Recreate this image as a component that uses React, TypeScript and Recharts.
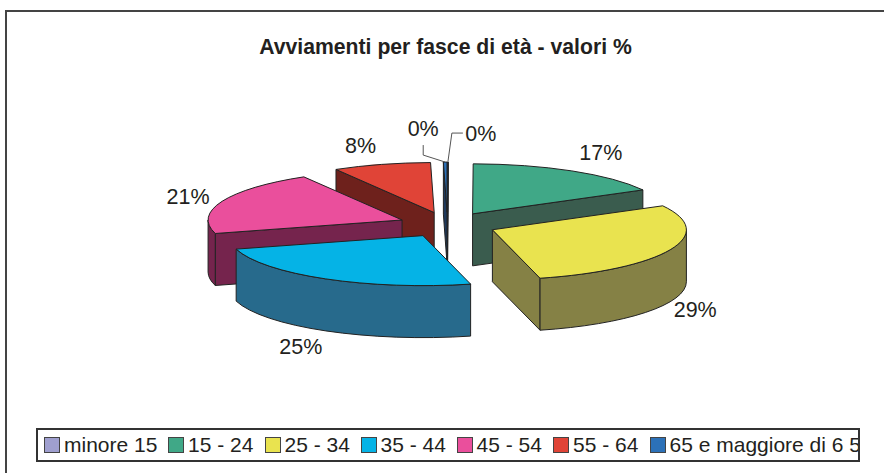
import React from "react";
import { Legend, Pie, PieChart } from "recharts";

const categories = ["minore 15", "15 - 24", "25 - 34", "35 - 44", "45 - 54", "55 - 64", "65 e maggiore di 6 5"];
const values = [0.05, 17, 29, 24.6, 20.9, 8.15, 0.3];
const topColors = ["#9f9fcf", "#40a887", "#e9e34f", "#05b3e6", "#ea4f9c", "#e04437", "#2c71b8"];
const sideColors = ["#50506a", "#3a5c4e", "#858145", "#276a8c", "#75244d", "#6e211c", "#1f3a5c"];

// back to front, the pie is cut up so the painter's order works
const drawOrder = [1, 0, 6, 5, 4, 2, 3];

const rows = categories.map((name, i) => ({ name, value: values[i] }));

const W = 884;
const H = 473;
const CX = 447.5;
const CY = 224.7;
const RX = 194;
const RY = 50;
const DEPTH = 52;
const EXPLODE = 0.2525;
const INK = "#231f20";
const FONT = "'Liberation Sans', Arial, sans-serif";

// label nudge from the middle of each slice's rim
const labelNudge = [
  [33, -29],
  [29, -18],
  [25, 60],
  [-25, 68],
  [-34, -5],
  [-21, -19],
  [-22, -34],
];
const legendSwatchX = [44, 168, 264.5, 360.5, 456.5, 553, 649.5];

const rad = (d: number) => (d * Math.PI) / 180;

function Slice3D(props: any) {
  const { cx, cy, outerRadius, startAngle, endAngle, index, percent, only } = props;
  if (index !== only) return null;

  const a = 90 - startAngle;
  const b = 90 - endAngle;
  const mid = (a + b) / 2;
  const k = RY / outerRadius;
  const ox = cx + outerRadius * EXPLODE * Math.sin(rad(mid));
  const oy = cy - outerRadius * EXPLODE * k * Math.cos(rad(mid));
  const px = (t: number) => ox + outerRadius * Math.sin(rad(t));
  const py = (t: number, d = 0) => oy - outerRadius * k * Math.cos(rad(t)) + d;
  const rx = outerRadius;
  const ry = outerRadius * k;
  const sweep = (from: number, to: number) => (to - from > 180 ? 1 : 0);

  const line = { stroke: "#222", strokeWidth: 1, strokeLinejoin: "round" as const };
  const side = sideColors[index];
  const wall = (t: number) =>
    `M${ox},${oy} L${px(t)},${py(t)} L${px(t)},${py(t, DEPTH)} L${ox},${oy + DEPTH} Z`;

  const wallFrom = Math.max(a, 90);
  const wallTo = Math.min(b, 270);
  const hasRim = wallTo > wallFrom;

  const [nx, ny] = labelNudge[index];
  const lx = px(mid);
  const ly = py(mid);
  const tx = lx + nx;
  const ty = ly + ny;

  return (
    <g>
      {Math.sin(rad(a)) < 0 && <path d={wall(a)} fill={side} {...line} />}
      {Math.sin(rad(b)) > 0 && <path d={wall(b)} fill={side} {...line} />}
      {hasRim && (
        <path
          d={`M${px(wallFrom)},${py(wallFrom)} A${rx},${ry} 0 ${sweep(wallFrom, wallTo)} 1 ${px(wallTo)},${py(wallTo)} L${px(wallTo)},${py(wallTo, DEPTH)} A${rx},${ry} 0 ${sweep(wallFrom, wallTo)} 0 ${px(wallFrom)},${py(wallFrom, DEPTH)} Z`}
          fill={side}
          {...line}
        />
      )}
      <path
        d={`M${ox},${oy} L${px(a)},${py(a)} A${rx},${ry} 0 ${sweep(a, b)} 1 ${px(b)},${py(b)} Z`}
        fill={topColors[index]}
        {...line}
      />
      {index === 0 && (
        <polyline points={`${lx},${ly} ${tx - 29},${ty} ${tx - 18},${ty}`} fill="none" stroke="#555" strokeWidth={1} />
      )}
      {index === 6 && (
        <polyline points={`${lx},${ly} ${tx},${ty + 27} ${tx},${ty + 17}`} fill="none" stroke="#555" strokeWidth={1} />
      )}
      <text x={tx} y={ty} dy="0.35em" textAnchor="middle" fontFamily={FONT} fontSize={21.5} fill={INK}>
        {`${Math.round(percent * 100)}%`}
      </text>
    </g>
  );
}

function LegendBox() {
  return (
    <div
      style={{
        position: "relative",
        width: 824,
        height: 34,
        boxSizing: "border-box",
        border: `2px solid #333`,
        background: "#fff",
        overflow: "hidden",
        fontFamily: FONT,
        fontSize: 21,
        color: INK,
        lineHeight: "30px",
        whiteSpace: "nowrap",
      }}
    >
      {categories.map((c, i) => (
        <React.Fragment key={c}>
          <span
            style={{
              position: "absolute",
              left: legendSwatchX[i] - 38,
              top: 7,
              width: 16,
              height: 16,
              boxSizing: "border-box",
              border: "1px solid #444",
              background: topColors[i],
            }}
          />
          <span style={{ position: "absolute", left: legendSwatchX[i] - 38 + 20, top: 0 }}>{c}</span>
        </React.Fragment>
      ))}
    </div>
  );
}

export default function App() {
  return (
    <div style={{ position: "absolute", left: 0, top: 0, width: W, height: H, overflow: "hidden", background: "#fff" }}>
      <div
        style={{
          position: "absolute",
          left: 5,
          top: 10,
          width: W + 20,
          height: H + 20,
          border: `2px solid #444`,
        }}
      />
      <div
        style={{
          position: "absolute",
          left: 0,
          top: 35,
          width: 891,
          textAlign: "center",
          fontFamily: FONT,
          fontWeight: 700,
          fontSize: 21.2,
          color: INK,
        }}
      >
        Avviamenti per fasce di età - valori %
      </div>
      <PieChart width={W} height={H} margin={{ top: 0, right: 0, bottom: 0, left: 0 }} style={{ position: "absolute", left: 0, top: 0 }}>
        {drawOrder.map((only) => (
          <Pie
            key={only}
            data={rows}
            dataKey="value"
            nameKey="name"
            cx={CX}
            cy={CY}
            innerRadius={0}
            outerRadius={RX}
            startAngle={90}
            endAngle={-270}
            stroke="none"
            legendType="none"
            isAnimationActive={false}
            shape={(p: any) => <Slice3D {...p} only={only} />}
          />
        ))}
        <Legend
          content={() => <LegendBox />}
          wrapperStyle={{ position: "absolute", left: 36, top: 428, width: 824, bottom: "auto" }}
        />
      </PieChart>
    </div>
  );
}
